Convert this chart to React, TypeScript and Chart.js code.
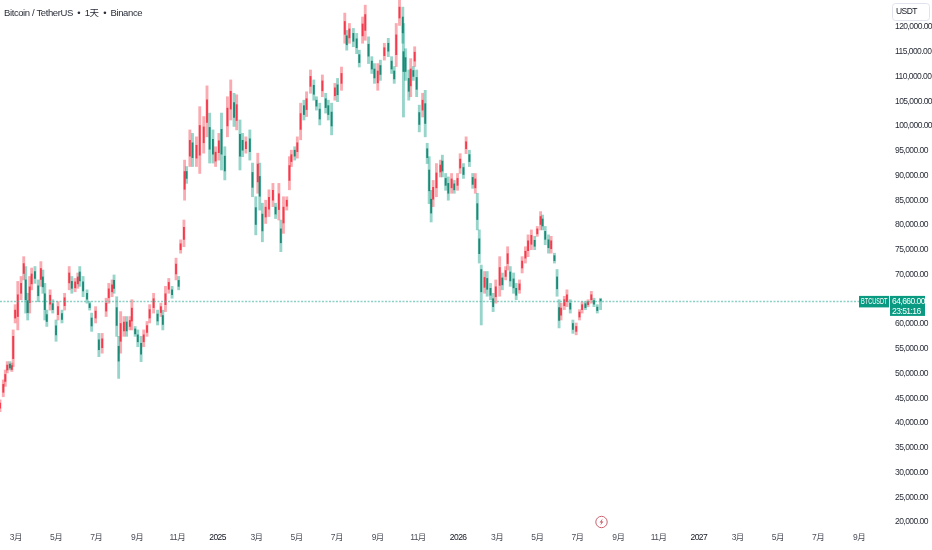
import React, { useEffect, useRef } from "react";
import { Chart, registerables } from "chart.js";

Chart.register(...registerables);

// Days since 2024-02-06, prices in thousands of USDT
const candleDays = [
  0,5,8,11,15,18,20,23,27,32,
  36,39,42,45,48,53,58,62,65,68,
  71,76,80,85,88,94,98,105,109,114,
  118,121,126,132,136,139,145,150,155,161,
  165,170,173,177,180,183,188,192,197,200,
  205,209,214,218,223,227,233,239,244,247,
  251,256,261,267,271,274,279,
  280,283,288,292,298,303,309,314,318,323,
  327,332,336,341,345,350,355,359,364,368,
  373,379,383,388,391,394,398,403,408,414,
  418,423,426,430,435,439,442,447,451,456,
  461,465,471,476,480,485,489,494,498,503,
  508,512,518,523,526,530,536,541,545,550,
  554,559,564,568,573,577,583,589,594,598,
  601,606,611,612,615,620,623,627,629,632,
  636,641,645,648,651,654,657,662,668,671,
  676,680,685,689,694,698,703,707,712,717,
  721,724,727,730,735,739,744,748,752,758,
  762,767,770,774,779,783,788,792,797,801,
  806,811,815,820,823,827,832,836,841,845,
  848,851,856,860,865,869,874,879,883,888,
  892,897,901,906,911,
];
const highs = [
  44.7,48.7,50.7,52.4,52.4,52.1,58.8,63.9,68.6,69.6,
  73.6,71.6,66.2,69.6,71.3,71.6,68.9,72.6,70.9,68.2,
  62.8,66.9,64.9,60.8,64.5,62.8,66.2,71.6,69.6,69.2,
  70.3,71.6,69.6,66.9,64.5,62.2,63.5,58.1,58.1,65.2,
  68.2,68.9,69.9,65.5,57.5,62.5,61.5,61.5,61.5,64.9,
  59.5,58.8,57.5,58.8,60.5,63.9,66.2,62.8,64.2,62.8,
  67.6,69.2,67.6,73.3,69.6,77,81,
  93.1,91.8,99.2,98.5,97.8,103.9,101.9,108.1,102.6,99.2,
  95.8,98.5,102.6,95.8,105.9,109.3,106.6,106.3,101.2,98.5,
  97.8,99.2,92.5,85.7,94.5,92.5,84.4,85,87.1,88.4,
  84.4,88.4,81,85.7,85.7,93.8,95.1,95.8,97.8,104.6,
  105.2,106.9,111.3,109.3,105.9,104.6,110.3,106.6,105.2,104.6,
  108.6,109.6,111.9,122.8,119.3,120.7,119.7,118.7,115.3,122,
  124.4,118,114,112.6,112.6,113.3,116.7,117.7,114,112,
  120.7,125.4,124,120.7,115.6,111.3,113.6,112,116,111.3,
  104.2,106.6,107.2,96.5,93.8,87,89,92.4,93.1,94.1,
  90.4,89.7,90.4,89,90.4,94.4,92.4,97.8,95.1,90.4,
  90.4,86.4,79,71.9,70.6,70.6,68.2,66.2,68.9,73.6,
  70.3,71.6,75.6,71.6,70.3,68.2,68.9,73.6,75.6,78,
  79,77.7,79.7,82.7,82,79.7,78,77.7,74.3,71,
  64.9,64.2,65.6,66.9,64.9,60.8,60.2,62.9,64.5,64.5,
  64.9,66.6,65.2,63.9,65.2,
];
const lows = [
  42.3,45.3,47.4,50.1,50.7,50.4,51.4,60.2,58.8,64.9,
  68.9,62.2,60.8,62.2,66.9,68.2,64.5,67.6,66.2,60.8,
  59.5,62.8,62.2,56.5,60.8,60.2,62.8,66.9,66.2,66.5,
  67.2,67.6,65.5,64.2,62.8,58.5,60.2,53.4,54.1,61.5,
  64.2,65.5,66.2,57.5,49,54.1,57.5,57.5,58.8,58.8,
  57.5,55.4,52.4,55.4,57.5,60.2,62.2,59.8,61.5,58.8,
  62.5,66.2,65.2,68.9,66.9,74.3,75.6,
  85,88.4,91.8,91.8,91.8,90.4,94.5,97.8,92.5,92.5,
  91.8,93.1,91.1,89.1,97.8,101.2,99.9,99.2,91.1,93.8,
  94.5,93.1,85.7,78,86.4,83,76.6,80.3,81.7,83.7,
  81.3,81,74.6,78.3,83,87.1,91.8,93.1,93.5,97.2,
  101.2,101.9,106.6,105.2,103.2,100.2,105.9,102.6,101.2,98.2,
  105.2,104.9,107.2,116.7,115.3,116.7,116,114.6,111.9,116.7,
  117.3,112.6,110.6,108.6,107.2,109.2,113.3,114,110.6,108.6,
  112,120.3,116.7,101.8,109.2,105.2,105.9,109.2,112,105.9,
  98.8,101.8,97.8,92.4,84.3,80.6,83.7,85.7,89.7,89.7,
  87,85,86.4,86.4,87,90.4,89.4,94.4,91.8,87.4,
  86.4,79,72.3,59.8,66.2,65.6,64.9,62.5,64.2,65.6,
  66.9,68.9,70.9,67.6,66.2,64.9,66.2,70.3,72.3,73.6,
  75,75,77.7,79,79,76,74.3,74.3,72.3,65.6,
  59.2,60.8,62.9,63.5,62.2,58.1,57.8,60.8,62.2,62.9,
  63.5,64.2,63.5,62.2,62.9,
];
const opens = [
  43,46.2,48.4,50.7,51.9,50.8,53,61.2,61.5,66.2,
  70.2,68.9,64.7,64.3,68.1,70.6,67.7,69,69.5,66.1,
  61.9,64,64.1,59.6,61.9,62.1,63.7,68.3,68.6,67.3,
  68.1,70.5,68.5,66.2,64.1,61.2,61.2,56.8,55.2,62.6,
  65.3,66.5,68.8,63.3,55.5,56.5,58.6,60.4,59.5,60.6,
  59,57.8,56.1,56.4,58.3,61.2,63.3,62,62.3,61.7,
  63.9,67,66.9,70.1,68.8,75,77.1,
  87.2,90.8,93.9,96.6,93.5,94.1,96.6,100.7,99.7,97.3,
  92.9,94.6,99.3,93.9,100,103.4,104.7,101.1,98.3,97.1,
  95.4,97.4,90.6,83.5,88.7,89.8,82.2,81.6,83.2,85,
  83.6,83.1,79.2,80.4,83.8,89,92.8,95.1,94.8,99.3,
  104.1,103.3,108,108.2,105.2,103.4,107.1,105.5,104.1,102.8,
  106.1,108.3,108.6,118.5,118.2,117.8,118.7,117.6,114.4,118.2,
  119.3,116.5,113.1,111.5,108.7,112.2,114.2,116.7,113.1,111.1,
  114.4,121.8,122,115,113.8,109.6,108.1,111.2,113.1,109.8,
  102.7,103.2,104.5,95.4,91.1,85.2,85.2,87.5,90.7,92.9,
  89.4,88.4,87.5,88.3,88,91.5,91.6,95.4,94.2,89.6,
  87.5,84.3,77.2,71,67.4,69.2,67.2,65.1,65.5,67.8,
  69.3,69.6,72.2,70.5,69.1,67.2,66.9,71.3,73.3,74.8,
  76.1,76.9,78.2,80.1,81.2,78.7,77,75.2,73.8,69.5,
  63.3,61.8,63.7,64.5,64.2,60.1,58.5,61.4,62.9,64.1,
  63.9,64.9,64.7,63.4,65,
];
const closes = [
  44,47.8,49.8,51.7,51.1,51.6,57.5,62.8,65.9,68.2,
  72.2,64.9,62.3,67.5,70.1,69.2,65.7,71.2,67.5,62.9,
  60.5,65.8,62.9,57.8,63.5,60.9,65.3,70.3,67.2,68.5,
  69.5,68.7,66.7,65,63.3,59.6,62.6,54.8,57,64.2,
  67.1,67.9,67.2,59.7,52.5,60.1,60.4,58.6,60.7,63.2,
  58,56.4,53.9,57.8,59.7,62.9,65.1,60.6,63.5,59.9,
  66.1,68.4,65.9,72.1,67.6,76.2,79.5,
  90.8,89.4,97.1,93.6,96.1,100.1,99.8,105.3,95.3,94.3,
  94.7,97,94.3,90.9,103.6,107,101.7,104.3,93.9,95.1,
  96.8,94.8,87.6,80.1,92.3,85.8,78.8,83.6,85.6,87,
  82.2,86.3,76.4,83.6,85,92,94.2,93.9,96.6,102.5,
  102.3,105.5,110,106.4,104,101.4,109.1,103.7,102.3,100,
  107.7,106.3,110.6,121.1,116.4,119.6,117.1,115.8,112.8,120.6,
  122.5,114.1,111.5,109.7,111.1,110.4,115.8,115.1,111.5,109.5,
  118.4,124,118.8,111,111,107,111.5,110,114.9,107.4,
  100.3,105.2,100.5,93.6,86.9,82.4,87.6,90.5,92.1,90.9,
  88,86.4,89.3,87.1,89.4,93.3,90.2,96.8,92.8,88.2,
  89.3,81.1,74.2,66.5,69.4,67,65.8,63.5,67.5,71.4,
  67.9,70.8,74.2,68.7,67.3,65.8,68.1,72.7,74.7,76.8,
  77.9,75.7,79.2,81.7,79.8,77.1,75.4,76.8,72.8,67.1,
  60.7,63.2,64.9,65.9,63,58.9,59.5,62.4,63.9,63.3,
  64.5,65.9,64,62.7,64.66,
];

const timeTickDays = [24,85,146,208,269,330,389,450,511,573,634,695,754,815,876,938,999,1060,1119,1180,1241,1303];
const timeTickLabels = ["3月","5月","7月","9月","11月","2025","3月","5月","7月","9月","11月","2026","3月","5月","7月","9月","11月","2027","3月","5月","7月","9月"];
// 65,000 sits behind the last-price badge in the reference, so it is not listed
const priceTicks = [20,25,30,35,40,45,50,55,60,70,75,80,85,90,95,100,105,110,115,120];

const lastPrice = 64660;
const titleText = "Bitcoin / TetherUS  •  1天  •  Binance";
const symbolText = "BTCUSDT";
const priceText = "64,660.00";
const countdownText = "23:51:16";
const currencyText = "USDT";

const UP = "rgba(242,40,60,0.85)";
const DOWN = "rgba(8,125,105,0.85)";
const UP_WICK = "rgba(242,54,69,0.42)";
const DOWN_WICK = "rgba(8,153,129,0.42)";
const UI_FONT = '"Liberation Sans","Noto Sans CJK SC",sans-serif';

const overlay = {
  id: "overlay",
  beforeDraw(chart: any) {
    chart.ctx.letterSpacing = "-0.55px";
  },
  afterDraw(chart: any) {
    const { ctx, scales } = chart;
    const y = scales.y.getPixelForValue(lastPrice);
    ctx.save();
    // last price line
    ctx.strokeStyle = "rgba(60,180,160,0.6)";
    ctx.lineWidth = 1.4;
    ctx.setLineDash([2, 1.5]);
    ctx.beginPath();
    ctx.moveTo(0, Math.round(y) + 0.5);
    ctx.lineTo(859, Math.round(y) + 0.5);
    ctx.stroke();
    ctx.setLineDash([]);
    ctx.lineWidth = 1;
    // symbol + price badges
    ctx.fillStyle = "#0a9981";
    ctx.fillRect(859, y - 5, 30, 11.5);
    ctx.fillRect(890, y - 5, 35, 20);
    ctx.fillStyle = "#ffffff";
    ctx.textBaseline = "middle";
    ctx.textAlign = "left";
    ctx.font = `8.5px ${UI_FONT}`;
    ctx.letterSpacing = "0px";
    ctx.save();
    ctx.translate(861, y + 1);
    ctx.scale(0.66, 1);
    ctx.fillText(symbolText, 0, 0);
    ctx.restore();
    ctx.letterSpacing = "-0.55px";
    ctx.fillText(priceText, 892, y + 1);
    ctx.fillText(countdownText, 892, y + 10.5);
    // currency box
    ctx.strokeStyle = "#e0e3eb";
    ctx.beginPath();
    ctx.roundRect(892.5, 3.5, 37, 17, 3);
    ctx.stroke();
    ctx.fillStyle = "#131722";
    ctx.fillText(currencyText, 896, 12);
    // title
    ctx.letterSpacing = "-0.4px";
    ctx.fillStyle = "#2a2e39";
    ctx.font = `9.5px ${UI_FONT}`;
    ctx.fillText(titleText, 4, 13);
    // lightning marker
    const cx = 601.5, cy = 522;
    ctx.strokeStyle = "#c9626f";
    ctx.lineWidth = 1;
    ctx.beginPath();
    ctx.arc(cx, cy, 5.7, 0, Math.PI * 2);
    ctx.stroke();
    ctx.fillStyle = "#c9626f";
    ctx.beginPath();
    ctx.moveTo(cx + 1.2, cy - 3.6);
    ctx.lineTo(cx - 2, cy + 0.5);
    ctx.lineTo(cx - 0.2, cy + 0.5);
    ctx.lineTo(cx - 1.2, cy + 3.6);
    ctx.lineTo(cx + 2, cy - 0.5);
    ctx.lineTo(cx + 0.2, cy - 0.5);
    ctx.closePath();
    ctx.fill();
    ctx.restore();
    ctx.letterSpacing = "0px";
  },
};

export default function App() {
  const ref = useRef<HTMLCanvasElement>(null);
  useEffect(() => {
    if (!ref.current) return;
    const isUp = candleDays.map((_, i) => closes[i] >= opens[i]);
    const chart = new Chart(ref.current, {
      type: "bar",
      data: {
        datasets: [
          {
            label: "body",
            order: 1,
            grouped: false,
            barThickness: 1.2,
            data: candleDays.map((d, i) => ({ x: d, y: [opens[i] * 1000, closes[i] * 1000] })),
            backgroundColor: isUp.map((u) => (u ? UP : DOWN)),
          },
          {
            label: "wick",
            order: 2,
            grouped: false,
            barThickness: 2.2,
            data: candleDays.map((d, i) => ({ x: d, y: [lows[i] * 1000, highs[i] * 1000] })),
            backgroundColor: isUp.map((u) => (u ? UP_WICK : DOWN_WICK)),
          },
        ],
      } as any,
      options: {
        animation: false,
        responsive: false,
        layout: { padding: 0 },
        plugins: { legend: { display: false }, tooltip: { enabled: false }, title: { display: false } },
        scales: {
          x: {
            type: "linear",
            offset: false,
            min: 0,
            max: 1350,
            grid: { display: false, drawTicks: false },
            border: { display: false },
            afterFit: (s: any) => { s.height = 20; s.paddingLeft = 0; s.paddingRight = 0; },
            afterBuildTicks: (s: any) => { s.ticks = timeTickDays.map((value) => ({ value })); },
            ticks: {
              autoSkip: false,
              maxRotation: 0,
              padding: 3,
              font: { size: 8.5, family: UI_FONT },
              color: (c: any) => (/^\d{4}$/.test(String(c.tick.label)) ? "#131722" : "#4a4e59"),
              callback: (v: any) => timeTickLabels[timeTickDays.indexOf(v)],
            },
          },
          y: {
            position: "right",
            min: 18384,
            max: 125440,
            grid: { display: false, drawTicks: false },
            border: { display: false },
            afterFit: (s: any) => { s.width = 42; s.paddingTop = 0; s.paddingBottom = 0; },
            afterBuildTicks: (s: any) => { s.ticks = priceTicks.map((v) => ({ value: v * 1000 })); },
            ticks: {
              autoSkip: false,
              padding: 5,
              font: { size: 8.5, family: UI_FONT },
              color: "#2a2e39",
              callback: (v: any) => Number(v).toLocaleString("en-US", { minimumFractionDigits: 2 }),
            },
          },
        },
      },
      plugins: [overlay],
    } as any);
    return () => chart.destroy();
  }, []);
  return (
    <div style={{ position: "fixed", left: 0, top: 0, width: 932, height: 550, background: "#fff" }}>
      <canvas ref={ref} width={932} height={550} style={{ display: "block", width: 932, height: 550 }} />
    </div>
  );
}
